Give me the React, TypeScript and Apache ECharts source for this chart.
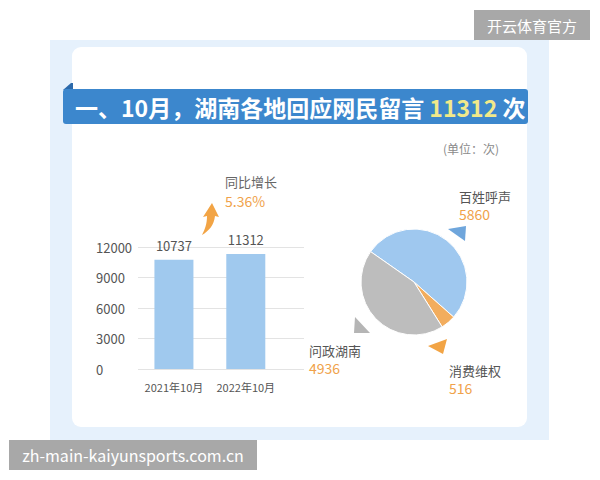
import React, { useEffect, useRef } from "react";
import * as echarts from "echarts";

const categories = ["2021年10月", "2022年10月"];
const barValues = [10737, 11312];
const yMin = 0;
const yMax = 12000;
const yInterval = 3000;
const pieNames = ["百姓呼声", "消费维权", "问政湖南"];
const pieValues = [5860, 516, 4936];
const pieColors = ["#9fc8ef", "#f2ad5e", "#bdbdbd"];
const growthLabel = "同比增长";
const growthValue = "5.36%";
const titleMain = "一、10月，湖南各地回应网民留言 ";
const titleTotal = "11312";
const titleUnit = " 次";
const unitText = "(单位：次)";

const FONT = '"Noto Sans CJK SC", "Noto Sans", sans-serif';

let shapeRegistered = false;

export default function App() {
  const ref = useRef<HTMLDivElement>(null);
  useEffect(() => {
    document.body.style.margin = "0";
    if (!shapeRegistered) {
      echarts.graphic.registerShape(
        "growthArrow",
        echarts.graphic.extendPath(
          "M12,3 L19,17 L15,16 C14,25 9,31 2,35 C5,29 7,24 7,16 L3,17 Z",
          {}
        ) as any
      );
      shapeRegistered = true;
    }
    const chart = echarts.init(ref.current!, undefined, { renderer: "svg" });
    const labelPos: Record<number, [number, number]> = {
      0: [459, 187],
      1: [449, 361],
      2: [309, 341],
    };
    chart.setOption({
      animation: false,
      textStyle: { fontFamily: FONT },
      graphic: [
        { type: "rect", z: -10, shape: { x: 50, y: 40, width: 499, height: 400 }, style: { fill: "#e6f1fc" } },
        { type: "rect", z: -9, shape: { x: 72, y: 47, width: 455, height: 380, r: 9 }, style: { fill: "#ffffff" } },
        { type: "polygon", z: -8, shape: { points: [[63, 90], [71, 83], [73, 83], [73, 90]] }, style: { fill: "#2c6aab" } },
        { type: "rect", z: -8, shape: { x: 63, y: 89, width: 465, height: 35, r: 3 }, style: { fill: "#3c87cd" } },
        {
          type: "text",
          z: 5,
          x: 75,
          y: 107,
          style: {
            text: `{a|${titleMain}}{b|${titleTotal}}{a|${titleUnit}}`,
            verticalAlign: "middle",
            rich: {
              a: { fontSize: 23, fontWeight: "bold", fill: "#ffffff", fontFamily: FONT },
              b: { fontSize: 23, fontWeight: "bold", fill: "#f1e98a", fontFamily: FONT },
            },
          },
        },
        {
          type: "text",
          x: 443,
          y: 148,
          style: { text: unitText, fontSize: 12, fill: "#8a8a8a", verticalAlign: "middle", fontFamily: FONT },
        },
        {
          type: "text",
          x: 225,
          y: 181,
          style: { text: growthLabel, fontSize: 13, fill: "#666666", verticalAlign: "middle", fontFamily: FONT },
        },
        {
          type: "text",
          x: 225,
          y: 201,
          style: { text: growthValue, fontSize: 14, fill: "#f0a24a", verticalAlign: "middle", fontFamily: FONT },
        },
        { type: "growthArrow", x: 200, y: 200, style: { fill: "#f2a445" } },
        { type: "polygon", shape: { points: [[448, 229], [466, 226], [465, 241]] }, style: { fill: "#6fa6dc" } },
        { type: "polygon", shape: { points: [[355, 317], [354, 333], [370, 333]] }, style: { fill: "#b5b5b5" } },
        { type: "polygon", shape: { points: [[428, 346], [447, 339], [443, 354]] }, style: { fill: "#f2a445" } },
        { type: "rect", shape: { x: 474, y: 10, width: 116, height: 30 }, style: { fill: "#a8a8a8" } },
        {
          type: "text",
          x: 532,
          y: 25,
          style: { text: "开云体育官方", fontSize: 15, fill: "#ffffff", align: "center", verticalAlign: "middle", fontFamily: FONT },
        },
        { type: "rect", shape: { x: 9, y: 440, width: 248, height: 30 }, style: { fill: "#a8a8a8" } },
        {
          type: "text",
          x: 133,
          y: 455,
          style: {
            text: "zh-main-kaiyunsports.com.cn",
            fontSize: 16,
            fill: "#ffffff",
            align: "center",
            verticalAlign: "middle",
            fontFamily: FONT,
          },
        },
      ],
      grid: { left: 138, right: 296, top: 247, bottom: 111, containLabel: false },
      xAxis: {
        type: "value",
        min: 0,
        max: 2.31,
        axisLine: { show: false },
        axisTick: { show: false },
        splitLine: { show: false },
        axisLabel: {
          customValues: categories.map((_, i) => i + 0.5),
          formatter: (v: number) => categories[Math.round(v - 0.5)] ?? "",
          fontSize: 11,
          color: "#555555",
          margin: 12,
        },
      },
      yAxis: {
        type: "value",
        min: yMin,
        max: yMax,
        interval: yInterval,
        axisLine: { show: false },
        axisTick: { show: false },
        splitLine: { lineStyle: { color: "#e3e3e3" } },
        axisLabel: {
          align: "left",
          margin: 42,
          fontSize: 13,
          color: "#555555",
          formatter: (v: number) => String(v),
        },
      },
      series: [
        {
          type: "bar",
          barWidth: 39,
          data: categories.map((c, i) => [i + 0.5, barValues[i]]),
          itemStyle: { color: "#a0c9ee" },
          label: {
            show: true,
            position: "top",
            distance: 8,
            fontSize: 13,
            color: "#555555",
            formatter: (p: any) => String(p.value[1]),
          },
        },
        {
          type: "pie",
          center: [414, 282],
          radius: 53,
          startAngle: 145,
          clockwise: true,
          data: pieNames.map((n, i) => ({ name: n, value: pieValues[i], itemStyle: { color: pieColors[i] } })),
          itemStyle: { borderColor: "#ffffff", borderWidth: 1 },
          labelLine: { show: false },
          label: {
            show: true,
            formatter: "{n|{b}}\n{v|{c}}",
            rich: {
              n: { fontSize: 13, color: "#555555", lineHeight: 18 },
              v: { fontSize: 14, color: "#f0a24a", lineHeight: 18 },
            },
          },
          labelLayout: (params: any) => {
            const p = labelPos[params.dataIndex];
            return { x: p[0], y: p[1], align: "left", verticalAlign: "top", hideOverlap: false };
          },
          emphasis: { disabled: true },
        },
      ],
    });
    return () => chart.dispose();
  }, []);
  return <div ref={ref} style={{ width: 600, height: 480 }} />;
}
